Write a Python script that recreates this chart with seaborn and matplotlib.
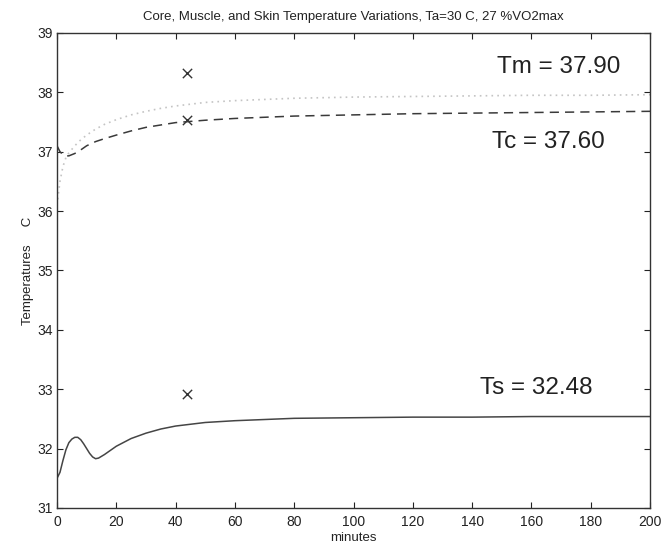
import matplotlib
matplotlib.use("Agg")
import matplotlib.pyplot as plt
import seaborn as sns
import pandas as pd

# ---- data ----
ts_time = [0, 1, 2, 3, 4, 5, 6, 7, 8, 9, 10, 11, 12, 13, 14, 16, 20, 25, 30, 35, 40, 50, 60, 70, 80, 100, 120, 140, 160, 180, 200]
ts_vals = [31.50, 31.60, 31.80, 31.98, 32.10, 32.16, 32.19, 32.19, 32.15, 32.08, 32.00, 31.92, 31.86, 31.83, 31.84, 31.90, 32.04, 32.17, 32.26, 32.33, 32.38, 32.44, 32.47, 32.49, 32.51, 32.52, 32.53, 32.53, 32.54, 32.54, 32.54]

tc_time = [0, 1, 2, 3, 4, 6, 8, 10, 13, 16, 20, 25, 30, 35, 40, 50, 60, 70, 80, 100, 120, 140, 160, 180, 200]
tc_vals = [37.10, 37.00, 36.95, 36.93, 36.93, 36.97, 37.03, 37.10, 37.17, 37.22, 37.28, 37.35, 37.41, 37.45, 37.49, 37.53, 37.56, 37.58, 37.60, 37.62, 37.64, 37.65, 37.66, 37.67, 37.68]

tm_time = [0, 1, 2, 3, 4, 6, 8, 10, 13, 16, 20, 25, 30, 35, 40, 50, 60, 70, 80, 100, 120, 140, 160, 180, 200]
tm_vals = [36.10, 36.50, 36.75, 36.90, 36.98, 37.10, 37.20, 37.28, 37.38, 37.46, 37.54, 37.62, 37.68, 37.73, 37.77, 37.83, 37.86, 37.88, 37.90, 37.92, 37.93, 37.94, 37.95, 37.95, 37.96]

mark_time = [44, 44, 44]
mark_vals = [38.33, 37.53, 32.92]

labels = ["Tm = 37.90", "Tc = 37.60", "Ts = 32.48"]
label_x = [148.4, 146.7, 142.7]
label_y = [38.43, 37.17, 33.02]

title = "Core, Muscle, and Skin Temperature Variations, Ta=30 C, 27 %VO2max"

sns.set_theme(style="white")
plt.rcParams['font.family'] = ['Liberation Sans', 'DejaVu Sans']

fig = plt.figure(figsize=(6.66, 5.49), dpi=100)
ax = fig.add_axes([0.0856, 0.0747, 0.8904, 0.8653])

df_s = pd.DataFrame({"t": ts_time, "v": ts_vals})
df_c = pd.DataFrame({"t": tc_time, "v": tc_vals})
df_m = pd.DataFrame({"t": tm_time, "v": tm_vals})
df_x = pd.DataFrame({"t": mark_time, "v": mark_vals})

sns.lineplot(data=df_s, x="t", y="v", ax=ax, color="#454545", lw=1.1)
sns.lineplot(data=df_c, x="t", y="v", ax=ax, color="#3a3a3a", lw=1.1)
ax.lines[-1].set_linestyle((0, (6, 4)))
sns.lineplot(data=df_m, x="t", y="v", ax=ax, color="#c4c4c4", lw=1.2)
ax.lines[-1].set_linestyle((0, (1, 2.5)))
sns.scatterplot(data=df_x, x="t", y="v", ax=ax, marker="x", color="#333333", s=45, linewidth=1.0)

for lab, xv, yv in zip(labels, label_x, label_y):
    ax.text(xv, yv, lab, ha="left", va="center", fontsize=17.5, color="#222222")

ax.set_xlim(0, 200)
ax.set_ylim(31, 39)
ax.set_xticks(range(0, 201, 20))
ax.set_yticks(range(31, 40))
ax.tick_params(direction="in", length=4, top=True, right=True, bottom=True, left=True,
               labelsize=10, colors="#222222", width=0.8)
ax.tick_params(axis="x", pad=5)
ax.tick_params(axis="y", pad=3)
for sp in ax.spines.values():
    sp.set_color("#333333")
    sp.set_linewidth(1.0)
ax.set_xlabel("minutes", fontsize=9.5, color="#222222", labelpad=2)
ax.set_ylabel("Temperatures     C", fontsize=9.5, color="#222222", labelpad=2)
ax.set_title(title, fontsize=9.5, color="#222222", pad=9)

fig.savefig("out.png", dpi=100)
